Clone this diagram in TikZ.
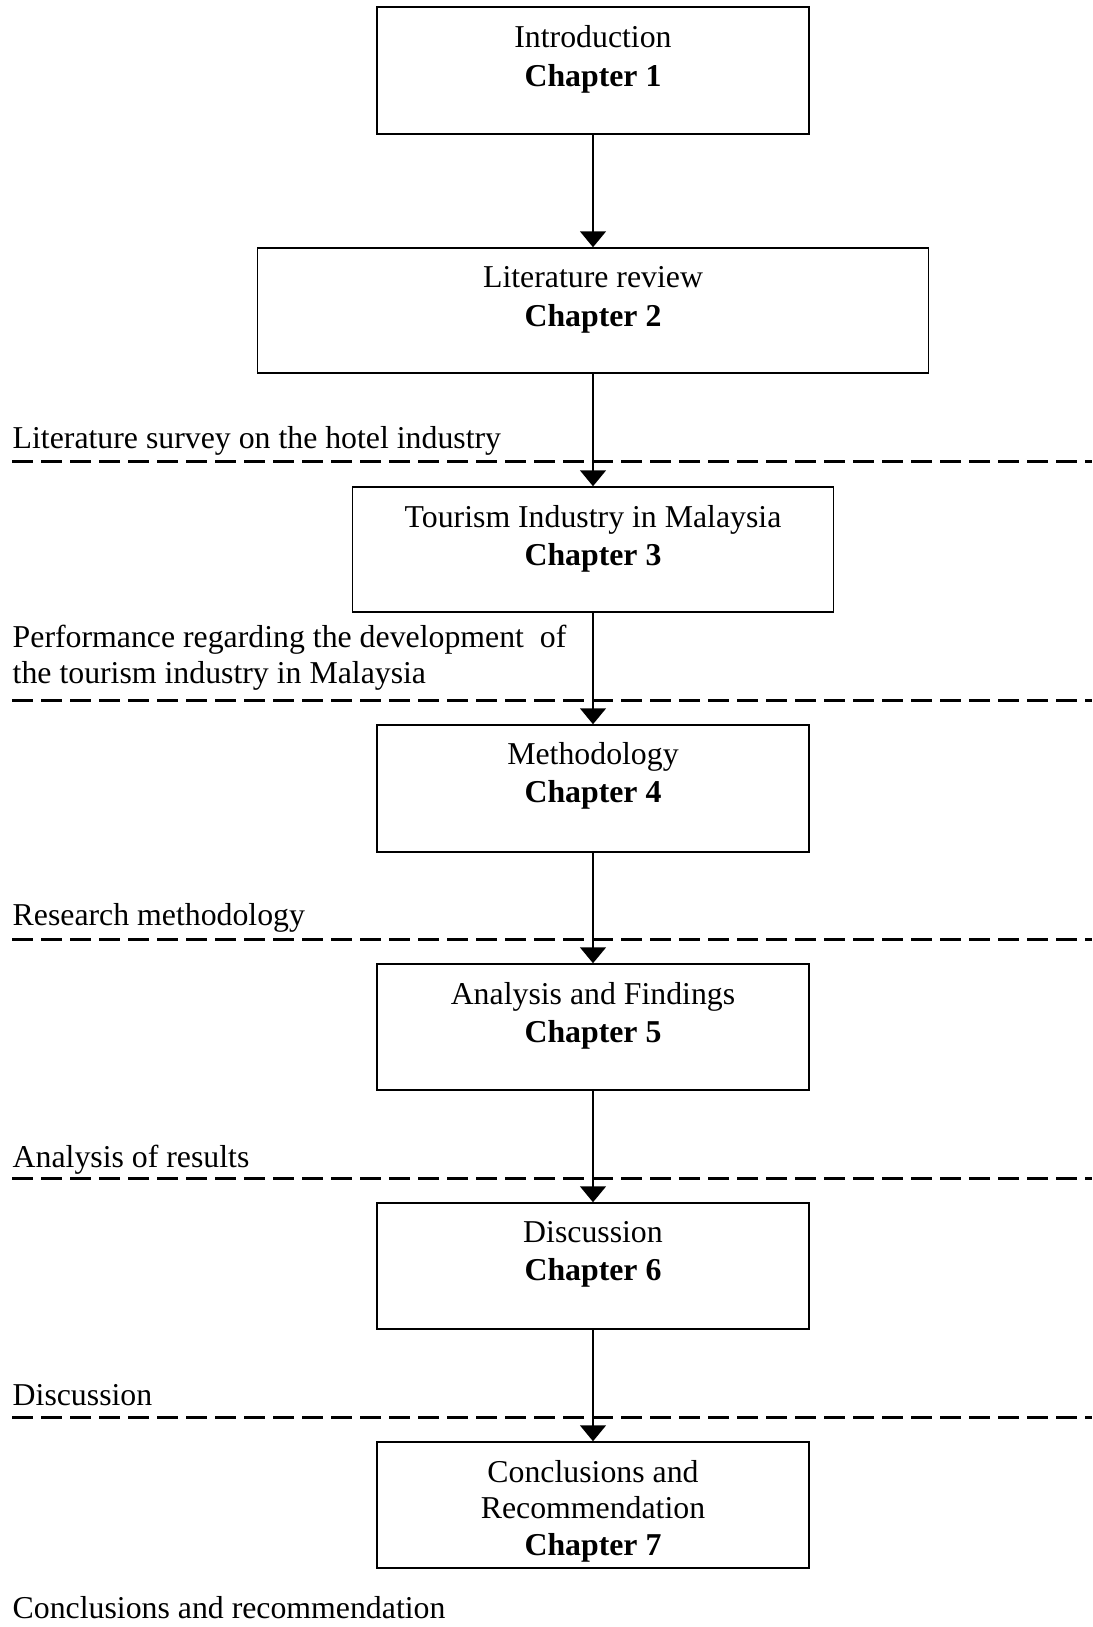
\documentclass[tikz,border=0pt]{standalone}
\usepackage{fontspec}
\setmainfont{Liberation Serif}
\usetikzlibrary{arrows.meta}
\begin{document}
\begin{tikzpicture}[x=1pt,y=-1pt,
  chbox/.style={draw, line width=1.5pt, inner sep=0pt, minimum width=#1},
  txt/.style={font=\fontsize{31.8}{38}\selectfont, inner sep=0pt, anchor=base},
  btxt/.style={font=\fontsize{31.8}{38}\selectfont\bfseries, inner sep=0pt, anchor=base},
  lbl/.style={font=\fontsize{31.8}{38}\selectfont, inner sep=0pt, anchor=base west},
  sep/.style={line width=3pt, dash pattern=on 21pt off 8pt},
  flow/.style={line width=1.6pt, -{Triangle[width=26pt,length=16pt]}}]
\useasboundingbox (0,0) rectangle (1092,1627);

% boxes
\node[chbox=432pt, minimum height=127pt] (b1) at (593,70.5) {};
\node[chbox=671pt, minimum height=125pt] (b2) at (593,310.5) {};
\node[chbox=481pt, minimum height=125pt] (b3) at (593,549.5) {};
\node[chbox=432pt, minimum height=127pt] (b4) at (593,788.5) {};
\node[chbox=432pt, minimum height=126pt] (b5) at (593,1027) {};
\node[chbox=432pt, minimum height=126pt] (b6) at (593,1266) {};
\node[chbox=432pt, minimum height=126pt] (b7) at (593,1505) {};

% box texts
\node[txt] (t1a) at (593,48) {Introduction};
\node[btxt] (t1b) at (593,87) {Chapter 1};
\node[txt] (t2a) at (593,287) {Literature review};
\node[btxt] (t2b) at (593,326) {Chapter 2};
\node[txt] (t3a) at (593,527) {Tourism Industry in Malaysia};
\node[btxt] (t3b) at (593,565) {Chapter 3};
\node[txt] (t4a) at (593,764) {Methodology};
\node[btxt] (t4b) at (593,802) {Chapter 4};
\node[txt] (t5a) at (593,1004) {Analysis and Findings};
\node[btxt] (t5b) at (593,1042) {Chapter 5};
\node[txt] (t6a) at (593,1242) {Discussion};
\node[btxt] (t6b) at (593,1280) {Chapter 6};
\node[txt] (t7a) at (593,1482) {Conclusions and};
\node[txt] (t7b) at (593,1518) {Recommendation};
\node[btxt] (t7c) at (593,1555) {Chapter 7};

% dashed separators
\foreach \i/\y in {1/461,2/700,3/939,4/1178,5/1417}{
  \coordinate (d\i l) at (12,\y);
  \coordinate (d\i r) at (1092,\y);
  \draw[sep] (d\i l) -- (d\i r);
}

% left labels
\node[lbl] (l1) at (12.5,448) {Literature survey on the hotel industry};
\node[lbl] (l2a) at (12.5,647) {Performance regarding the development~ of};
\node[lbl] (l2b) at (12.5,683) {the tourism industry in Malaysia};
\node[lbl] (l3) at (12.5,925) {Research methodology};
\node[lbl] (l4) at (12.5,1167) {Analysis of results};
\node[lbl] (l5) at (12.5,1405) {Discussion};
\node[lbl] (l6) at (12.5,1618) {Conclusions and recommendation};

% connectors
\draw[flow] (b1) -- (b2);
\draw[flow] (b2) -- (b3);
\draw[flow] (b3) -- (b4);
\draw[flow] (b4) -- (b5);
\draw[flow] (b5) -- (b6);
\draw[flow] (b6) -- (b7);
\end{tikzpicture}
\end{document}
